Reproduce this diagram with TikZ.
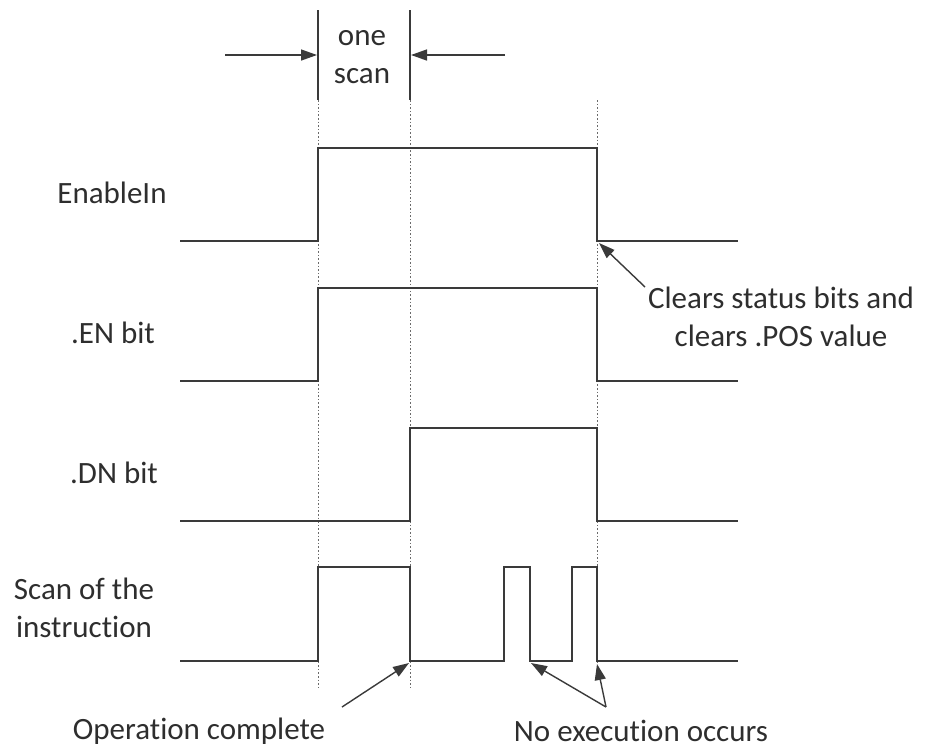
\documentclass[tikz,border=0pt]{standalone}
\usepackage{fontspec}
\setmainfont[Ligatures=NoCommon]{Carlito}
\usetikzlibrary{arrows.meta}
\definecolor{wavecol}{HTML}{3A3A3A}
\definecolor{textcol}{HTML}{2E2E2E}
\definecolor{guidecol}{HTML}{6A6A6A}
\begin{document}
\begin{tikzpicture}[x=1pt,y=-1pt,
  wave/.style={draw=wavecol,line width=1.8pt,line join=miter},
  guide/.style={draw=guidecol,line width=0.8pt,dash pattern=on 1.6pt off 2pt},
  tick/.style={draw=wavecol,line width=1.6pt},
  ptr/.style={draw=wavecol,line width=1.4pt,-{Triangle[length=16pt,width=11pt]}},
  lbl/.style={font=\fontsize{31}{38}\selectfont,text=textcol,inner sep=0pt,align=center}]
\useasboundingbox (0,0) rectangle (933,748);

% guides
\draw[guide] (318,100) -- (318,688);
\draw[guide] (410,100) -- (410,688);
\draw[guide] (597,100) -- (597,662);

% scan width marks
\draw[tick] (318,10) -- (318,100);
\draw[tick] (410,10) -- (410,100);
\coordinate (aL) at (225,55);
\coordinate (aLt) at (317,55);
\coordinate (aR) at (505,55);
\coordinate (aRt) at (411,55);
\draw[ptr] (aL) -- (aLt);
\draw[ptr] (aR) -- (aRt);
\node[lbl] (onescan) at (362,57) {one\\scan};

% waveforms
\draw[wave] (180,241) -- (318,241) -- (318,148) -- (597,148) -- (597,241) -- (738,241);
\draw[wave] (180,381) -- (318,381) -- (318,288) -- (597,288) -- (597,381) -- (738,381);
\draw[wave] (180,521) -- (410,521) -- (410,428) -- (597,428) -- (597,521) -- (738,521);
\draw[wave] (180,661) -- (318,661) -- (318,567) -- (410,567) -- (410,661) -- (504,661)
  -- (504,567) -- (530,567) -- (530,661) -- (572,661) -- (572,567) -- (597,567) -- (597,661) -- (738,661);

% signal labels
\node[lbl] (en) at (112,193) {EnableIn};
\node[lbl] (enbit) at (113,333) {.EN bit};
\node[lbl] (dnbit) at (114,473) {.DN bit};
\node[lbl] (scan) at (84,608) {Scan of the\\instruction};

% annotations
\node[lbl] (clears) at (781,317) {Clears status bits and\\clears .POS value};
\node[lbl] (opc) at (199,731) {Operation complete};
\node[lbl] (noex) at (641,731) {No execution occurs};

\coordinate (clrT) at (599,243);
\coordinate (opT) at (409,663);
\coordinate (ne1) at (531,663);
\coordinate (ne2) at (597,664);
\coordinate (clrS) at (645,287);
\coordinate (opS) at (342,707);
\coordinate (neS) at (606,707);

\draw[ptr] (clrS) -- (clrT);
\draw[ptr] (opS) -- (opT);
\draw[ptr] (neS) -- (ne1);
\draw[ptr] (neS) -- (ne2);
\end{tikzpicture}
\end{document}
